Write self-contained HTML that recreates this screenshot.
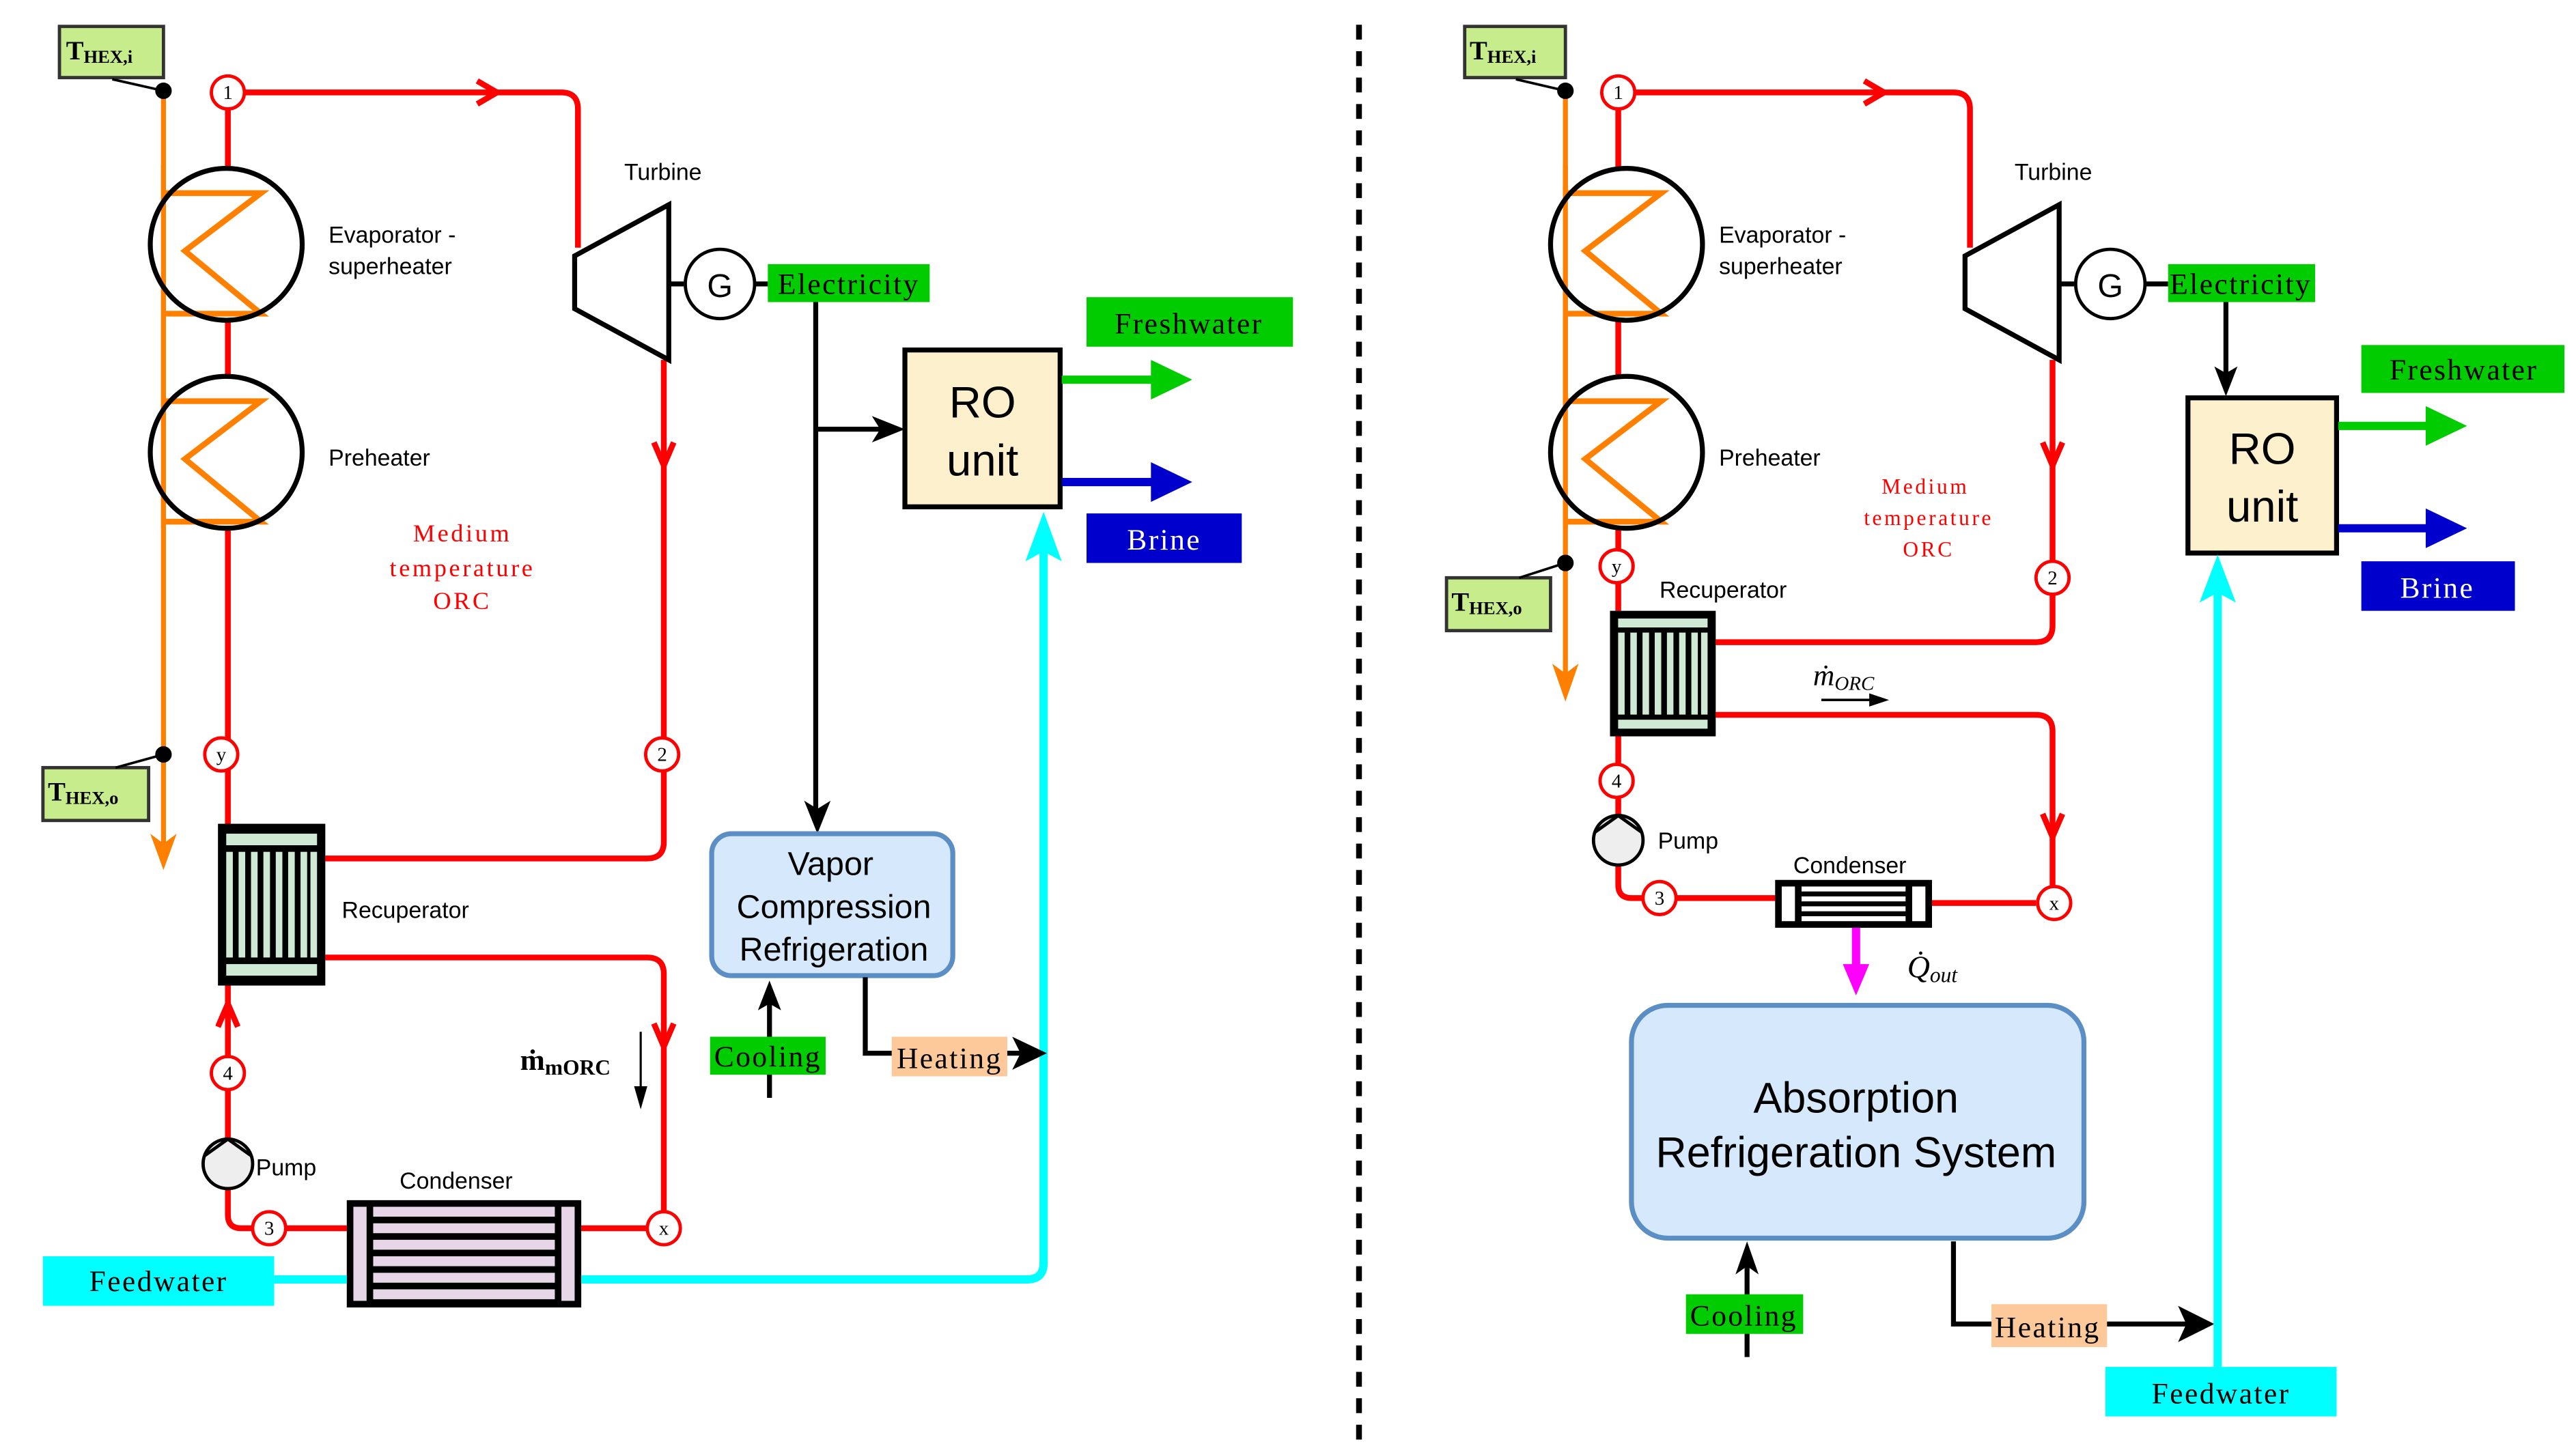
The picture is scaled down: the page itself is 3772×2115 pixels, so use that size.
<!DOCTYPE html>
<html><head><meta charset="utf-8"><style>
html,body{margin:0;padding:0;background:#fff;}
svg{display:block;}
text{font-family:"Liberation Sans",sans-serif;}
text.s{font-family:"Liberation Serif",serif;}
</style></head><body>
<svg width="3772" height="2115" viewBox="0 0 1560 874.7" xmlns="http://www.w3.org/2000/svg">
<defs>
<g id="hx">
 <path d="M-38,-31 H21 L-25,4 L21,42 H-38" fill="none" stroke="#ff8000" stroke-width="3.5"/>
 <circle cx="0" cy="0" r="46" fill="none" stroke="#000" stroke-width="3"/>
</g>
<g id="recup">
 <rect x="0" y="0" width="65" height="98" fill="#000"/>
 <rect x="5" y="6" width="55" height="7" fill="#cfe9d4"/>
 <rect x="5" y="85" width="55" height="7" fill="#cfe9d4"/>
 <g fill="#cfe9d4">
  <rect x="5" y="17" width="4" height="64"/><rect x="12.5" y="17" width="4" height="64"/><rect x="20" y="17" width="4" height="64"/><rect x="27.5" y="17" width="4" height="64"/><rect x="35" y="17" width="4" height="64"/><rect x="42.5" y="17" width="4" height="64"/><rect x="50" y="17" width="4" height="64"/><rect x="56" y="17" width="4" height="64"/>
 </g>
</g>
</defs>
<style>
.r{fill:none;stroke:#ff0000;stroke-width:3.5}
.k{fill:none;stroke:#000;stroke-width:3}
.nd{fill:#fff;stroke:#ff0000;stroke-width:2}
text.nt{font-family:"Liberation Serif",serif;font-size:12px;text-anchor:middle}
.lb{font-size:14px}
text.bx{font-family:"Liberation Serif",serif;font-size:18px;letter-spacing:1px}
text.md{font-family:"Liberation Serif",serif;fill:#ff0000;text-anchor:middle;letter-spacing:1.5px}
</style>

<line x1="823" y1="15" x2="823" y2="872" stroke="#000" stroke-width="3.5" stroke-dasharray="9,7"/>

<!-- ================= LEFT ================= -->
<line x1="99" y1="55" x2="99" y2="512" stroke="#ff8000" stroke-width="3"/>
<path d="M91,505 L99,527 L107,505 L99,511Z" fill="#ff8000"/>
<path class="r" d="M148,56 H340 Q350,56 350,66 V150"/>
<path class="r" d="M289,49 L301,56 L289,63"/>
<line class="r" x1="138" y1="66" x2="138" y2="500"/>
<path class="r" d="M402,218 V447"/>
<path class="r" d="M396,268 L402,282 L408,268"/>
<path class="r" d="M402,467 V510 Q402,520 392,520 H197"/>
<path class="r" d="M197,580 H392 Q402,580 402,590 V734"/>
<path class="r" d="M396,620 L402,634 L408,620"/>
<path class="r" d="M138,597 V690"/>
<path class="r" d="M132,622 L138,608 L144,622"/>
<path class="r" d="M138,720 V736 Q138,744 146,744 H210"/>
<path class="r" d="M352,744 H392"/>
<circle cx="137" cy="148" r="46" fill="#fff"/>
<circle cx="137" cy="274" r="46" fill="#fff"/>
<line x1="99" y1="100" x2="99" y2="320" stroke="#ff8000" stroke-width="3"/>
<line class="r" x1="138" y1="100" x2="138" y2="102"/>
<use href="#hx" x="137" y="148"/>
<use href="#hx" x="137" y="274"/>
<use href="#recup" x="132" y="499"/>
<circle class="nd" cx="138" cy="56" r="10"/><text class="nt" x="138" y="60">1</text>
<circle class="nd" cx="134" cy="457" r="10"/><text class="nt" x="134" y="461" font-size="9">y</text>
<circle class="nd" cx="401" cy="457" r="10"/><text class="nt" x="401" y="461">2</text>
<circle class="nd" cx="138" cy="650" r="10"/><text class="nt" x="138" y="654">4</text>
<circle class="nd" cx="163" cy="744" r="10"/><text class="nt" x="163" y="748">3</text>
<circle class="nd" cx="402" cy="744" r="10"/><text class="nt" x="402" y="748" font-size="10">x</text>
<circle cx="138" cy="705" r="15" fill="#eee" stroke="#000" stroke-width="2"/>
<path d="M124,700 L138,690 L152,700" fill="none" stroke="#000" stroke-width="2"/>
<text class="lb" x="155" y="712">Pump</text>
<rect x="210" y="727" width="142" height="65" fill="#000"/>
<rect x="214" y="731" width="8" height="57" fill="#e6d6e8"/>
<rect x="340" y="731" width="8" height="57" fill="#e6d6e8"/>
<g fill="#e6d6e8"><rect x="226" y="731" width="110" height="6"/><rect x="226" y="741" width="110" height="6"/><rect x="226" y="751" width="110" height="6"/><rect x="226" y="761" width="110" height="6"/><rect x="226" y="771" width="110" height="6"/><rect x="226" y="781" width="110" height="6"/></g>
<text class="lb" x="242" y="720">Condenser</text>
<path d="M166,775 H210 M352,775 H622 Q632,775 632,765 V330" fill="none" stroke="#00ffff" stroke-width="5"/>
<path d="M621,340 L632,310 L643,340 L632,334Z" fill="#00ffff"/>
<rect x="26" y="761" width="140" height="30" fill="#00ffff"/>
<text class="bx" x="96" y="782" text-anchor="middle">Feedwater</text>
<polygon points="348,155 405,124 405,218 348,187" fill="#fff" stroke="#000" stroke-width="3"/>
<text class="lb" x="378" y="109">Turbine</text>
<line x1="405" y1="172" x2="414" y2="172" stroke="#000" stroke-width="3"/>
<circle cx="436" cy="172" r="21" fill="#fff" stroke="#000" stroke-width="2"/>
<text x="436" y="180" font-size="20" text-anchor="middle">G</text>
<line x1="457" y1="172" x2="465" y2="172" stroke="#000" stroke-width="3"/>
<rect x="465" y="160" width="98" height="23" fill="#00cc00"/>
<text class="bx" x="514" y="178" text-anchor="middle" font-size="17">Electricity</text>
<path class="k" d="M494,183 V490 M494,260 H535"/>
<path d="M487,485 L495,505 L503,485 L495,490Z" fill="#000"/>
<path d="M528,252 L548,260 L528,268 L533,260Z" fill="#000"/>
<rect x="548" y="212" width="94" height="95" fill="#fdf0cc" stroke="#000" stroke-width="3"/>
<text x="595" y="253" font-size="27" text-anchor="middle">RO</text>
<text x="595" y="288" font-size="27" text-anchor="middle">unit</text>
<line x1="643" y1="230" x2="700" y2="230" stroke="#00cc00" stroke-width="5"/>
<polygon points="697,218 722,230 697,242" fill="#00cc00"/>
<line x1="643" y1="292" x2="700" y2="292" stroke="#0000cc" stroke-width="5"/>
<polygon points="697,280 722,292 697,304" fill="#0000cc"/>
<rect x="658" y="180" width="125" height="30" fill="#00cc00"/>
<text class="bx" x="720" y="202" text-anchor="middle">Freshwater</text>
<rect x="658" y="311" width="94" height="30" fill="#0000cc"/>
<text class="bx" x="705" y="333" text-anchor="middle" fill="#fff">Brine</text>
<rect x="431" y="505" width="146" height="86" rx="12" fill="#d6e8fb" stroke="#5b8ec4" stroke-width="3"/>
<text x="503" y="530" font-size="20" text-anchor="middle">Vapor</text>
<text x="505" y="556" font-size="20" text-anchor="middle">Compression</text>
<text x="505" y="582" font-size="20" text-anchor="middle">Refrigeration</text>
<path class="k" d="M466,665 V605"/>
<path d="M459,612 L466,594 L473,612 L466,608Z" fill="#000"/>
<rect x="430" y="628" width="70" height="23" fill="#00cc00"/>
<text class="bx" x="465" y="646" text-anchor="middle" font-size="17">Cooling</text>
<path class="k" d="M524,592 V638 H620"/>
<path d="M613,628 L634,638 L613,648 L618,638Z" fill="#000"/>
<rect x="540" y="628" width="70" height="24" fill="#fdc99a"/>
<text class="bx" x="575" y="647" text-anchor="middle" font-size="17">Heating</text>
<text class="s" x="315" y="648" font-size="18" font-weight="bold">ṁ<tspan font-size="13" dy="3">mORC</tspan></text>
<line x1="388" y1="625" x2="388" y2="660" stroke="#000" stroke-width="1.3"/>
<polygon points="384,658 388,672 392,658" fill="#000"/>
<text class="md" x="280" y="328" font-size="15">Medium</text>
<text class="md" x="280" y="349" font-size="15">temperature</text>
<text class="md" x="280" y="369" font-size="15">ORC</text>
<text class="lb" x="199" y="147">Evaporator -</text>
<text class="lb" x="199" y="166">superheater</text>
<text class="lb" x="199" y="282">Preheater</text>
<text class="lb" x="207" y="556">Recuperator</text>
<rect x="36" y="16" width="63" height="31" fill="#c6ec8c" stroke="#333" stroke-width="2"/>
<text class="s" x="40" y="36" font-size="16" font-weight="bold">T<tspan font-size="11" dy="2">HEX,i</tspan></text>
<line x1="68" y1="48" x2="99" y2="55" stroke="#000" stroke-width="1.5"/>
<circle cx="99" cy="55" r="5" fill="#000"/>
<rect x="26" y="465" width="64" height="32" fill="#c6ec8c" stroke="#333" stroke-width="2"/>
<text class="s" x="29" y="485" font-size="16" font-weight="bold">T<tspan font-size="11" dy="2">HEX,o</tspan></text>
<line x1="70" y1="465" x2="99" y2="457" stroke="#000" stroke-width="1.5"/>
<circle cx="99" cy="457" r="5" fill="#000"/>

<!-- ================= RIGHT ================= -->
<line x1="948" y1="55" x2="948" y2="410" stroke="#ff8000" stroke-width="3"/>
<path d="M940,402 L948,425 L956,402 L948,408Z" fill="#ff8000"/>
<path class="r" d="M990,56 H1183 Q1193,56 1193,66 V150"/>
<path class="r" d="M1129,49 L1141,56 L1129,63"/>
<line class="r" x1="980" y1="66" x2="980" y2="370"/>
<path class="r" d="M1243,218 V340"/>
<path class="r" d="M1237,268 L1243,282 L1249,268"/>
<path class="r" d="M1243,360 V379 Q1243,389 1233,389 H1039"/>
<path class="r" d="M1039,433 H1233 Q1243,433 1243,443 V537"/>
<path class="r" d="M1237,493 L1243,507 L1249,493"/>
<path class="r" d="M980,446 V494"/>
<path class="r" d="M980,524 V536 Q980,544 988,544 H1075"/>
<path class="r" d="M1170,547 H1233"/>
<circle cx="985" cy="148" r="46" fill="#fff"/>
<circle cx="985" cy="274" r="46" fill="#fff"/>
<line x1="948" y1="100" x2="948" y2="320" stroke="#ff8000" stroke-width="3"/>
<use href="#hx" x="985" y="148"/>
<use href="#hx" x="985" y="274"/>
<g transform="translate(975,370) scale(0.985,0.776)"><use href="#recup"/></g>
<circle class="nd" cx="980" cy="56" r="10"/><text class="nt" x="980" y="60">1</text>
<circle class="nd" cx="979" cy="343" r="10"/><text class="nt" x="979" y="347" font-size="9">y</text>
<circle class="nd" cx="1243" cy="350" r="10"/><text class="nt" x="1243" y="354">2</text>
<circle class="nd" cx="979" cy="473" r="10"/><text class="nt" x="979" y="477">4</text>
<circle class="nd" cx="1005" cy="544" r="10"/><text class="nt" x="1005" y="548">3</text>
<circle class="nd" cx="1244" cy="547" r="10"/><text class="nt" x="1244" y="551" font-size="10">x</text>
<circle cx="980" cy="509" r="15" fill="#eee" stroke="#000" stroke-width="2"/>
<path d="M966,504 L980,494 L994,504" fill="none" stroke="#000" stroke-width="2"/>
<text class="lb" x="1004" y="514">Pump</text>
<text class="lb" x="1005" y="362">Recuperator</text>
<rect x="1075" y="533" width="95" height="29" fill="#000"/>
<rect x="1079" y="537" width="8" height="21" fill="#fff"/>
<rect x="1158" y="537" width="8" height="21" fill="#fff"/>
<g fill="#fff"><rect x="1091" y="537" width="63" height="3"/><rect x="1091" y="543" width="63" height="3"/><rect x="1091" y="549" width="63" height="3"/><rect x="1091" y="555" width="63" height="3"/></g>
<text class="lb" x="1086" y="529">Condenser</text>
<line x1="1124" y1="562" x2="1124" y2="590" stroke="#ff00ff" stroke-width="5"/>
<polygon points="1116,584 1124,603 1132,584" fill="#ff00ff"/>
<text class="s" x="1155" y="592" font-size="19" font-style="italic">Q̇<tspan font-size="13" dy="3">out</tspan></text>
<text class="s" x="1098" y="415" font-size="18" font-style="italic">ṁ<tspan font-size="12" dy="3">ORC</tspan></text>
<line x1="1103" y1="424" x2="1135" y2="424" stroke="#000" stroke-width="1.5"/>
<polygon points="1132,420 1144,424 1132,428" fill="#000"/>
<polygon points="1190,155 1247,124 1247,218 1190,187" fill="#fff" stroke="#000" stroke-width="3"/>
<text class="lb" x="1220" y="109">Turbine</text>
<line x1="1247" y1="172" x2="1256" y2="172" stroke="#000" stroke-width="3"/>
<circle cx="1278" cy="172" r="21" fill="#fff" stroke="#000" stroke-width="2"/>
<text x="1278" y="180" font-size="20" text-anchor="middle">G</text>
<line x1="1299" y1="172" x2="1313" y2="172" stroke="#000" stroke-width="3"/>
<rect x="1313" y="160" width="89" height="23" fill="#00cc00"/>
<text class="bx" x="1357" y="178" text-anchor="middle" font-size="17">Electricity</text>
<path class="k" d="M1348,183 V226"/>
<path d="M1341,222 L1348,240 L1355,222 L1348,226Z" fill="#000"/>
<rect x="1325" y="241" width="90" height="94" fill="#fdf0cc" stroke="#000" stroke-width="3"/>
<text x="1370" y="281" font-size="27" text-anchor="middle">RO</text>
<text x="1370" y="316" font-size="27" text-anchor="middle">unit</text>
<line x1="1416" y1="258" x2="1472" y2="258" stroke="#00cc00" stroke-width="5"/>
<polygon points="1469,246 1494,258 1469,270" fill="#00cc00"/>
<line x1="1416" y1="320" x2="1472" y2="320" stroke="#0000cc" stroke-width="5"/>
<polygon points="1469,308 1494,320 1469,332" fill="#0000cc"/>
<rect x="1430" y="209" width="123" height="29" fill="#00cc00"/>
<text class="bx" x="1492" y="230" text-anchor="middle">Freshwater</text>
<rect x="1430" y="340" width="93" height="30" fill="#0000cc"/>
<text class="bx" x="1476" y="362" text-anchor="middle" fill="#fff">Brine</text>
<text class="md" x="1166" y="299" font-size="13">Medium</text>
<text class="md" x="1168" y="318" font-size="13">temperature</text>
<text class="md" x="1168" y="337" font-size="13">ORC</text>
<text class="lb" x="1041" y="147">Evaporator -</text>
<text class="lb" x="1041" y="166">superheater</text>
<text class="lb" x="1041" y="282">Preheater</text>
<rect x="988" y="609" width="274" height="141" rx="22" fill="#d6e8fb" stroke="#5b8ec4" stroke-width="3"/>
<text x="1124" y="674" font-size="26" text-anchor="middle">Absorption</text>
<text x="1124" y="707" font-size="26" text-anchor="middle">Refrigeration System</text>
<path class="k" d="M1058,822 V765"/>
<path d="M1051,772 L1058,752 L1065,772 L1058,767Z" fill="#000"/>
<rect x="1021" y="784" width="71" height="24" fill="#00cc00"/>
<text class="bx" x="1056" y="803" text-anchor="middle" font-size="17">Cooling</text>
<path class="k" d="M1183,752 V802 H1325"/>
<path d="M1319,791 L1341,802 L1319,813 L1324,802Z" fill="#000"/>
<rect x="1206" y="790" width="70" height="26" fill="#fdc99a"/>
<text class="bx" x="1240" y="810" text-anchor="middle" font-size="17">Heating</text>
<line x1="1343" y1="828" x2="1343" y2="355" stroke="#00ffff" stroke-width="5"/>
<path d="M1332,365 L1343,336 L1354,365 L1343,359Z" fill="#00ffff"/>
<rect x="1275" y="828" width="140" height="30" fill="#00ffff"/>
<text class="bx" x="1345" y="850" text-anchor="middle">Feedwater</text>
<rect x="887" y="16" width="61" height="31" fill="#c6ec8c" stroke="#333" stroke-width="2"/>
<text class="s" x="890" y="36" font-size="16" font-weight="bold">T<tspan font-size="11" dy="2">HEX,i</tspan></text>
<line x1="918" y1="48" x2="948" y2="55" stroke="#000" stroke-width="1.5"/>
<circle cx="948" cy="55" r="5" fill="#000"/>
<rect x="876" y="350" width="63" height="32" fill="#c6ec8c" stroke="#333" stroke-width="2"/>
<text class="s" x="879" y="370" font-size="16" font-weight="bold">T<tspan font-size="11" dy="2">HEX,o</tspan></text>
<line x1="920" y1="350" x2="948" y2="341" stroke="#000" stroke-width="1.5"/>
<circle cx="948" cy="341" r="5" fill="#000"/>
</svg>
</body></html>
